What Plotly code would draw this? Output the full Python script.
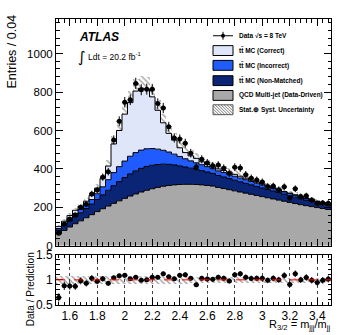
import numpy as np
import plotly.graph_objects as go

##########################################
# 1. Data
##########################################
bin_lo = 1.5
bin_width = 0.04
n_bins = 50

# stacked predictions, entries / 0.04, from bottom to top
qcd = [62, 80, 98, 115, 130, 146, 162, 178, 193, 207,
       221, 234, 247, 259, 270, 280, 289, 297, 304, 310,
       314, 317, 319, 320, 320, 319, 317, 314, 311, 304,
       298, 292, 286, 280, 274, 268, 262, 256, 250, 244,
       238, 232, 226, 220, 214, 209, 204, 199, 194, 189]
ttbar_nonmatched = [20, 25, 31, 37, 42, 48, 55, 63, 72, 82,
                    92, 100, 108, 115, 120, 123, 124, 122, 119, 115,
                    110, 104, 97, 90, 84, 79, 74, 70, 66, 62,
                    60, 58, 55, 53, 51, 49, 47, 45, 43, 41,
                    39, 37, 35, 33, 31, 29, 27, 25, 23, 21]
ttbar_incorrect = [8, 11, 14, 16, 17, 20, 24, 30, 42, 55,
                   68, 78, 86, 92, 95, 95, 92, 87, 80, 72,
                   64, 56, 49, 43, 38, 34, 31, 28, 26, 24,
                   23, 22, 21, 20, 19, 18, 17, 16, 15, 14,
                   13, 12, 12, 11, 10, 9, 8, 7, 7, 7]
ttbar_correct = [10, 12, 15, 17, 16, 18, 21, 29, 43, 71,
                 149, 188, 244, 279, 320, 322, 310, 269, 202, 143,
                 97, 73, 45, 32, 26, 23, 15, 11, 9, 10,
                 11, 12, 10, 9, 8, 7, 6, 5, 4, 3,
                 2, 1, 1, 1, 1, 1, 1, 1, 1, 1]
# stat (+) syst uncertainty on the total prediction
pred_unc = [8, 10, 12, 14, 15, 17, 19, 22, 26, 31,
            40, 46, 53, 58, 63, 64, 63, 59, 53, 48,
            43, 39, 35, 33, 31, 29, 27, 26, 25, 24,
            23, 22, 21, 20, 19, 18, 17, 16, 16, 15,
            14, 14, 13, 13, 12, 12, 11, 11, 11, 10]
# data, sqrt(s) = 8 TeV
data = [65, 113, 139, 161, 201, 216, 270, 291, 357, 386,
        551, 648, 747, 760, 845, 812, 815, 814, 740, 717,
        620, 561, 556, 534, 482, 410, 450, 431, 416, 420,
        404, 376, 409, 405, 370, 352, 342, 332, 309, 311,
        292, 307, 249, 297, 256, 260, 238, 220, 223, 222]

edges = bin_lo + bin_width * np.arange(n_bins + 1)
centers = edges[:-1] + bin_width / 2

layers = [
    (qcd, "#a8a8a8"),
    (ttbar_nonmatched, "#0b2576"),
    (ttbar_incorrect, "#1f5bff"),
    (ttbar_correct, "#dfe6fa"),
]

##########################################
# 2. Plot
##########################################
fig = go.Figure()

cum = np.zeros(n_bins)
for i, (vals, col) in enumerate(layers):
    cum = cum + np.array(vals)
    fig.add_trace(go.Scatter(
        x=edges, y=np.append(cum, cum[-1]), mode="lines", line_shape="hv",
        line=dict(color="black", width=1),
        fill="tozeroy" if i == 0 else "tonexty", fillcolor=col,
        xaxis="x", yaxis="y", hoverinfo="skip"))
total = cum
unc = np.array(pred_unc)
dat = np.array(data, dtype=float)

hatch = dict(shape="\\", fgcolor="#444444", bgcolor="rgba(0,0,0,0)", size=4, solidity=0.35)

fig.add_trace(go.Bar(
    x=centers, y=2 * unc, base=total - unc, width=bin_width,
    marker=dict(color="rgba(0,0,0,0)", line_width=0, pattern=hatch),
    xaxis="x", yaxis="y"))
fig.add_trace(go.Scatter(
    x=centers, y=dat, mode="markers", marker=dict(color="black", size=5),
    error_y=dict(type="data", array=np.sqrt(dat), color="black", thickness=1, width=0),
    error_x=dict(type="constant", value=bin_width / 2, color="black", thickness=1, width=0),
    xaxis="x", yaxis="y"))

# ratio panel
fig.add_trace(go.Bar(
    x=centers, y=2 * unc / total, base=1 - unc / total, width=bin_width,
    marker=dict(color="rgba(0,0,0,0)", line_width=0, pattern=hatch),
    xaxis="x2", yaxis="y2"))
fig.add_trace(go.Scatter(
    x=centers, y=dat / total, mode="markers", marker=dict(color="black", size=5),
    error_y=dict(type="data", array=np.sqrt(dat) / total, color="black", thickness=1, width=0),
    error_x=dict(type="constant", value=bin_width / 2, color="black", thickness=1, width=0),
    xaxis="x2", yaxis="y2"))

FONT = "Liberation Sans"
W, H = 349, 335
ML, MR, MT, MB = 56, 18, 17, 28


def px(x):
    return (x - ML) / (W - ML - MR)


def py(y):
    return (H - MB - y) / (H - MT - MB)


axis_common = dict(showline=True, linecolor="black", linewidth=1, mirror="allticks",
                   ticks="inside", tickcolor="black", ticklen=7, zeroline=False,
                   tickfont=dict(family=FONT, size=12, color="black"))

fig.update_layout(
    width=W, height=H, margin=dict(l=ML, r=MR, t=MT, b=MB),
    plot_bgcolor="white", paper_bgcolor="white", showlegend=False,
    barmode="overlay", bargap=0,
    xaxis=dict(axis_common, domain=[0, 1], range=[1.5, 3.5], anchor="y",
               tick0=1.6, dtick=0.2, showticklabels=False, showgrid=False,
               minor=dict(dtick=0.04, ticklen=3.5, ticks="inside", tickcolor="black")),
    # range starts just above 0 so no "0" label is drawn, as in the reference
    yaxis=dict(axis_common, domain=[py(247), 1], range=[0.01, 1180], anchor="x",
               tick0=0, dtick=200, showgrid=False,
               tickfont=dict(family=FONT, size=11.5, color="black"),
               minor=dict(dtick=40, ticklen=3.5, ticks="inside", tickcolor="black")),
    xaxis2=dict(axis_common, domain=[0, 1], range=[1.5, 3.5], anchor="y2", matches="x",
                tick0=1.6, dtick=0.2, showgrid=True, gridcolor="#444444", griddash="dot",
                gridwidth=1,
                minor=dict(dtick=0.04, ticklen=3.5, ticks="inside", tickcolor="black")),
    yaxis2=dict(axis_common, domain=[0, py(256)], range=[0.5, 1.5], anchor="x2",
                tickvals=[0.5, 1, 1.5], ticktext=["0.5", "1", "1.5"], showgrid=False,
                minor=dict(dtick=0.1, ticklen=3.5, ticks="inside", tickcolor="black")),
)

fig.add_shape(type="line", xref="x2 domain", yref="y2", x0=0, x1=1, y0=1, y1=1,
              line=dict(color="red", width=1, dash="dash"), layer="above")

ann = []
ann.append(dict(text="Entries / 0.04", x=px(12), y=py(50), textangle=-90,
                xanchor="center", font=dict(family=FONT, size=12.5)))
ann.append(dict(text="Data / Prediction", x=px(30), y=py(291), textangle=-90,
                xanchor="center", font=dict(family=FONT, size=10)))
ann.append(dict(text="R<sub>3/2</sub> = m<sub>jjj</sub>/m<sub>jj</sub>", x=px(332), y=py(327),
                xanchor="right", font=dict(family=FONT, size=11)))
ann.append(dict(text="<b><i>ATLAS</i></b>", x=px(77), y=py(35), xanchor="left",
                font=dict(family=FONT, size=12)))
ann.append(dict(text="\u222b", x=px(76), y=py(56), xanchor="left",
                font=dict(family="DejaVu Sans", size=15)))
ann.append(dict(text="Ldt = 20.2 fb<sup>-1</sup>", x=px(86), y=py(55), xanchor="left",
                font=dict(family=FONT, size=8.5)))

# legend
leg_x0, leg_x1 = 213, 233
rows = [
    (34, "data", "Data \u221as = 8 TeV"),
    (49, "#dfe6fa", "tt\u0304 MC (Correct)"),
    (64, "#1f5bff", "tt\u0304 MC (Incorrect)"),
    (79.5, "#0b2576", "tt\u0304 MC (Non-Matched)"),
    (94.5, "#a8a8a8", "QCD Multi-jet (Data-Driven)"),
    (109, "hatch", "Stat.\u2295 Syst. Uncertainty"),
]
shapes = []
for yc, kind, label in rows:
    if kind == "data":
        shapes.append(dict(type="line", xref="paper", yref="paper",
                           x0=px(leg_x0), x1=px(leg_x1), y0=py(yc), y1=py(yc),
                           line=dict(color="black", width=1)))
        shapes.append(dict(type="line", xref="paper", yref="paper",
                           x0=px(223), x1=px(223), y0=py(yc - 4), y1=py(yc + 4),
                           line=dict(color="black", width=1)))
        shapes.append(dict(type="circle", xref="paper", yref="paper",
                           x0=px(221), x1=px(225), y0=py(yc - 2), y1=py(yc + 2),
                           fillcolor="black", line=dict(color="black", width=0)))
    elif kind == "hatch":
        top, bot = yc - 5, yc + 5
        shapes.append(dict(type="rect", xref="paper", yref="paper",
                           x0=px(leg_x0), x1=px(leg_x1), y0=py(bot), y1=py(top),
                           fillcolor="white", line=dict(color="#555555", width=1)))
        for o in np.arange(-10, 20, 3):
            xa, ya = leg_x0 + o, top
            xb, yb = leg_x0 + o + 10, bot
            if xa < leg_x0:
                ya = top + (leg_x0 - xa)
                xa = leg_x0
            if xb > leg_x1:
                yb = bot - (xb - leg_x1)
                xb = leg_x1
            if xb <= xa:
                continue
            shapes.append(dict(type="line", xref="paper", yref="paper",
                               x0=px(xa), x1=px(xb), y0=py(ya), y1=py(yb),
                               line=dict(color="#555555", width=0.8)))
    else:
        shapes.append(dict(type="rect", xref="paper", yref="paper",
                           x0=px(leg_x0), x1=px(leg_x1), y0=py(yc + 5), y1=py(yc - 5),
                           fillcolor=kind, line=dict(color="black", width=1)))
    ann.append(dict(text="<b>" + label + "</b>", x=px(237), y=py(yc), xanchor="left",
                    font=dict(family=FONT, size=6.5)))

for s in shapes:
    fig.add_shape(s)
for a in ann:
    a.setdefault("xref", "paper")
    a.setdefault("yref", "paper")
    a.setdefault("yanchor", "middle")
    a.setdefault("showarrow", False)
    a["font"].setdefault("color", "black")
    fig.add_annotation(a)

# the page body keeps a default 8px margin; drop it so the figure sits at the origin
fig.write_html("out.html", config={"displayModeBar": False},
               post_script="document.body.style.margin='0';")
